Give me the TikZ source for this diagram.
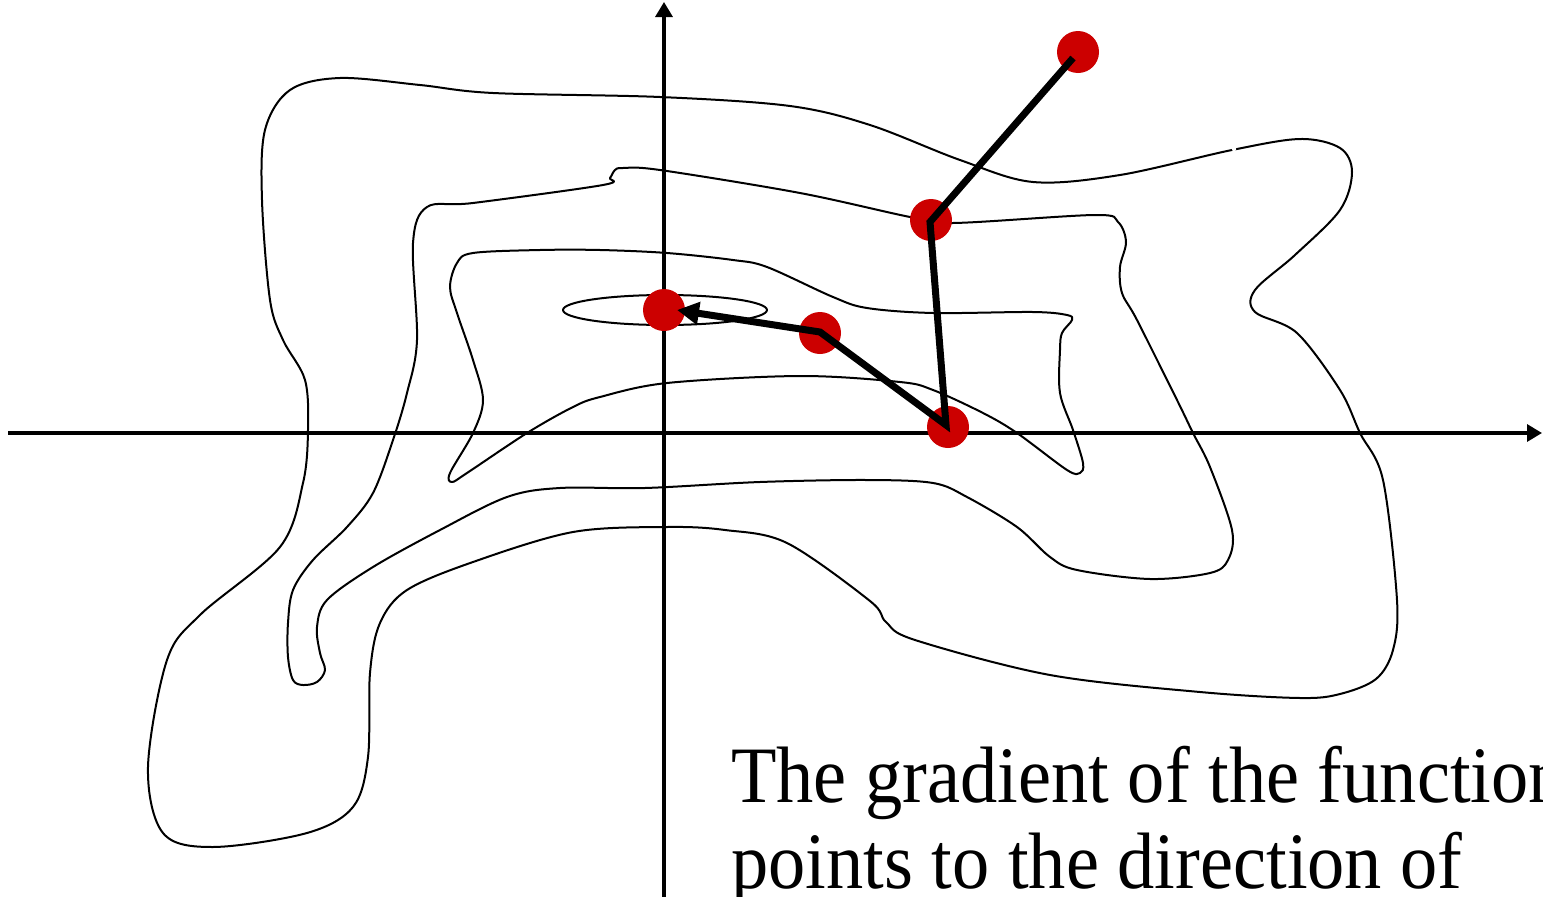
\documentclass[tikz,border=0pt]{standalone}
\usepackage{fontspec}
\newfontfamily\tnr[FakeStretch=0.93]{Liberation Serif}
\usetikzlibrary{arrows.meta}
\definecolor{dotred}{HTML}{CC0000}
\tikzset{
  contour/.style={line width=2pt, black, line join=round},
  axis/.style={line width=3.3pt, -{Triangle[length=15pt,width=17pt]}},
  dot/.style={circle, fill=dotred, minimum size=42pt, inner sep=0pt},
  descent/.style={line width=7pt, line join=miter, -{Triangle[length=22pt,width=22pt]}},
  label/.style={inner sep=0pt, anchor=base west, font=\tnr\fontsize{80}{85}\selectfont},
}
\begin{document}
\begin{tikzpicture}[x=1pt, y=-1pt]
\useasboundingbox (0,0) rectangle (1543,897);
\clip (0,0) rectangle (1543,897);
\fill[white] (0,0) rectangle (1543,897);

% outer contour
\draw[contour] plot[smooth cycle, tension=0.55] coordinates {
 (340,78) (420,85) (493,93) (660,97) (790,106) (870,125) (960,160) (1033,182)
 (1120,175) (1232,150) (1300,139) (1340,148) (1352,172) (1340,210) (1295,255)
 (1255,290) (1255,312) (1297,333) (1340,390) (1360,433) (1383,480) (1397,600)
 (1393,650) (1376,679) (1340,694) (1300,698) (1200,692) (1050,675) (915,640)
 (886,622) (870,601) (787,543) (725,530) (667,527) (573,532) (473,562) (407,590)
 (380,623) (370,673) (368,757) (353,807) (307,833) (213,847) (163,833) (148,767)
 (167,660) (200,615) (280,547) (303,483) (308,430) (305,380) (283,340) (270,300)
 (262,200) (265,130) (290,90)};
\fill[white] (1234,149) circle (2.2pt);

% second contour
\draw[contour] plot[smooth cycle, tension=0.55] coordinates {
 (427,207) (473,203) (603,185) (610,178) (615,170) (623,168) (660,170) (800,193)
 (910,217) (953,223) (1095,215) (1118,222) (1126,242) (1120,267) (1122,293)
 (1137,320) (1177,400) (1193,433) (1210,467) (1232,530) (1228,560) (1210,573)
 (1150,579) (1077,570) (1050,557) (1017,527) (967,497) (933,483) (867,480)
 (760,482) (645,488) (560,488) (507,497) (440,530) (373,567) (327,600)
 (317,627) (320,653) (325,670) (317,682) (303,685) (293,680) (288,657) (288,623)
 (293,590) (313,560) (347,527) (373,493) (393,440) (407,393) (417,340) (413,243)};

% third contour
\draw[contour] plot[smooth cycle, tension=0.55] coordinates {
 (473,253) (540,250) (600,250) (667,253) (733,260) (767,267) (833,297) (867,308)
 (933,313) (1033,312) (1067,315) (1072,320) (1062,333) (1060,350) (1060,393)
 (1073,430) (1083,463) (1080,473) (1067,470) (1017,433) (983,413) (933,390)
 (900,382) (800,376) (667,383) (600,397) (573,407) (527,433) (467,473) (452,482)
 (450,473) (473,433) (483,400) (473,360) (457,313) (450,287) (457,263)};

% inner ellipse
\draw[contour] (665,310) ellipse [x radius=102pt, y radius=15pt];

% axes
\coordinate (xstart) at (8,433);
\coordinate (xend) at (1542,433);
\coordinate (ystart) at (664,897);
\coordinate (yend) at (664,2);
\draw[axis] (xstart) -- (xend);
\draw[axis] (ystart) -- (yend);

% iterates
\node[dot] (p1) at (1078,52) {};
\node[dot] (p2) at (931,220) {};
\node[dot] (p3) at (948,427) {};
\node[dot] (p4) at (820,333) {};
\node[dot] (p5) at (664,310) {};
\coordinate (q1) at (1073,58);
\coordinate (q2) at (930,222);
\coordinate (q3) at (946,425);
\coordinate (q4) at (820,332);
\coordinate (q5) at (677,310);
\draw[descent] (q1) -- (q2) -- (q3) -- (q4) -- (q5);

% text
\node[label] (t1) at (731,802) {The gradient of the function};
\node[label] (t2) at (731,888) {points to the direction of};
\end{tikzpicture}
\end{document}
